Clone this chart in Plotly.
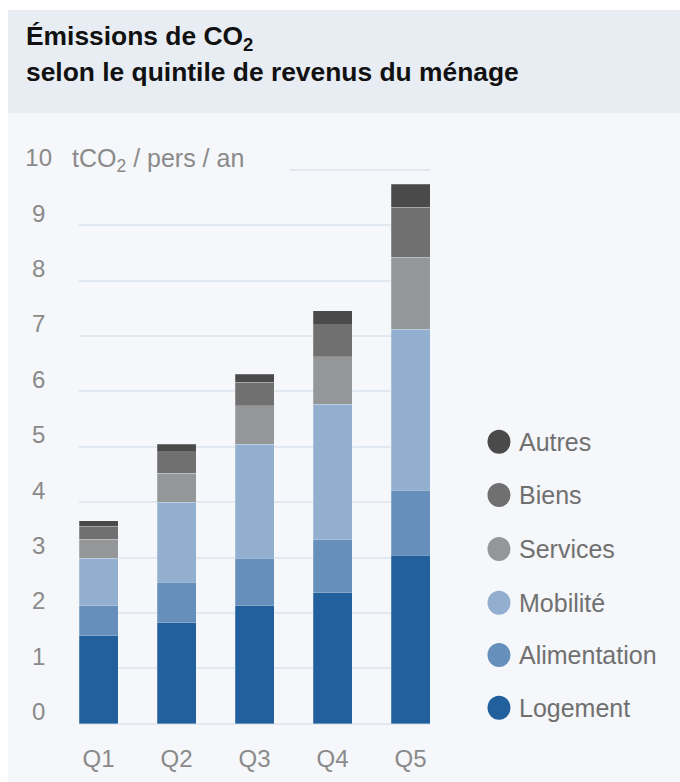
import plotly.graph_objects as go

W, H = 680, 782

quintiles = ["Q1", "Q2", "Q3", "Q4", "Q5"]
categories = ["Logement", "Alimentation", "Mobilité", "Services", "Biens", "Autres"]
logement = [1.59, 1.82, 2.13, 2.36, 3.04]
alimentation = [0.54, 0.73, 0.86, 0.96, 1.17]
mobilite = [0.86, 1.45, 2.05, 2.45, 2.91]
services = [0.34, 0.52, 0.70, 0.85, 1.30]
biens = [0.23, 0.39, 0.42, 0.58, 0.90]
autres = [0.10, 0.13, 0.15, 0.25, 0.42]
series = [logement, alimentation, mobilite, services, biens, autres]
colors = ["#21609c", "#6690bb", "#93afcf", "#959698", "#707070", "#4a4a4a"]
y_ticks = list(range(0, 11))
y_ticktext = [str(v) if v >= 10 else str(v) + "\u2008" for v in y_ticks]

FONT = "Liberation Sans, Arial, sans-serif"
PANEL = "#f5f7fa"
BAND = "#e8edf4"
GRID = "#e2e8f0"


def px(x):
    return x / W


def py(y):
    return 1 - y / H


fig = go.Figure()
for name, vals, col in zip(categories, series, colors):
    fig.add_trace(go.Bar(
        x=quintiles, y=vals, name=name,
        marker=dict(color=col, line=dict(color="rgba(255,255,255,0.35)", width=0.6)),
        showlegend=False,
    ))

x0, x1 = 79, 430
y_base, unit = 723.7, 55.4
y_max = 10.3
y_top = y_base - y_max * unit

shapes = [
    dict(type="rect", xref="paper", yref="paper", x0=px(8), x1=1, y0=py(113), y1=py(10),
         fillcolor=BAND, line=dict(width=0), layer="below"),
    dict(type="rect", xref="paper", yref="paper", x0=px(8), x1=1, y0=0, y1=py(113),
         fillcolor=PANEL, line=dict(width=0), layer="below"),
    dict(type="rect", xref="paper", yref="paper", x0=px(70), x1=px(290),
         y0=py(175), y1=py(161), fillcolor=PANEL, line=dict(width=0), layer="above"),
]

annotations = [
    dict(text="<b>Émissions de CO<sub>2</sub></b>", xref="paper", yref="paper",
         x=px(24), y=py(38), xanchor="left", yanchor="middle", showarrow=False,
         font=dict(family=FONT, size=26.4, color="#111111")),
    dict(text="<b>selon le quintile de revenus du ménage</b>", xref="paper", yref="paper",
         x=px(24), y=py(72), xanchor="left", yanchor="middle", showarrow=False,
         font=dict(family=FONT, size=26.4, color="#111111")),
    dict(text="tCO<sub>2</sub> / pers / an", xref="paper", yref="paper",
         x=px(70), y=py(160), xanchor="left", yanchor="middle", showarrow=False,
         font=dict(family=FONT, size=25, color="#8a8a8a")),
]

legend_y = [707.7, 655, 602.7, 549, 495, 441.7]
for name, col, ly in zip(categories, colors, legend_y):
    shapes.append(dict(type="circle", xref="paper", yref="paper",
                       x0=px(487.5), x1=px(510.5), y0=py(ly + 12), y1=py(ly - 12),
                       fillcolor=col, line=dict(width=0), layer="above"))
    annotations.append(dict(text=name, xref="paper", yref="paper",
                            x=px(517), y=py(ly), xanchor="left", yanchor="middle",
                            showarrow=False,
                            font=dict(family=FONT, size=25, color="#707070")))

fig.update_layout(
    width=W, height=H,
    margin=dict(l=0, r=0, t=0, b=0, pad=0, autoexpand=False),
    paper_bgcolor="white",
    plot_bgcolor="rgba(0,0,0,0)",
    barmode="stack",
    bargap=0.5,
    showlegend=False,
    shapes=shapes,
    annotations=annotations,
    font=dict(family=FONT),
    xaxis=dict(
        domain=[px(x0), px(x1)],
        range=[-0.25, 4.25],
        automargin=False,
        showgrid=False, zeroline=False, showline=False, ticks="",
        tickfont=dict(family=FONT, size=24, color="#8a8a8a"),
        ticklabelstandoff=18,
    ),
    yaxis=dict(
        domain=[py(y_base), py(y_top)],
        range=[0, y_max],
        automargin=False,
        tickvals=y_ticks, ticktext=y_ticktext,
        showgrid=True, gridcolor=GRID, gridwidth=2,
        zeroline=True, zerolinecolor=GRID, zerolinewidth=2,
        showline=False, ticks="",
        ticklabelposition="outside",
        ticklabelshift=-12,
        tickfont=dict(family=FONT, size=24, color="#8a8a8a"),
        ticklabelstandoff=26,
    ),
)

fig.write_html("out.html", post_script="document.body.style.margin='0';",
               config={"displayModeBar": False})
